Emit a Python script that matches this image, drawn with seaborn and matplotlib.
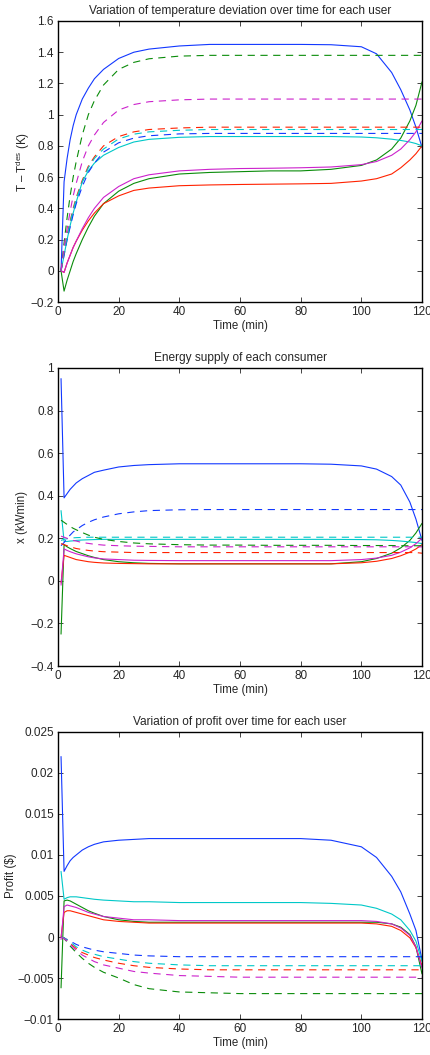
import numpy as np
import pandas as pd
import matplotlib
matplotlib.use("Agg")
import matplotlib.pyplot as plt
from matplotlib.ticker import FuncFormatter
import seaborn as sns

# time grid (min) shared by every curve
t = [1, 2, 3, 4, 5, 6, 8, 10, 12, 15, 20, 25, 30, 40, 50, 60, 70, 80, 90, 100, 105, 110, 113, 116, 118, 120]

# --- panel 1: temperature deviation (K) ---
temp_b = [0.0, 0.57, 0.72, 0.84, 0.93, 1.00, 1.10, 1.17, 1.23, 1.29, 1.36, 1.40, 1.42, 1.44, 1.45, 1.45, 1.45, 1.45, 1.448, 1.435, 1.39, 1.27, 1.16, 1.03, 0.92, 0.79]
temp_g = [0.0, -0.13, -0.06, 0.0, 0.06, 0.11, 0.20, 0.28, 0.35, 0.43, 0.51, 0.56, 0.59, 0.62, 0.63, 0.635, 0.64, 0.64, 0.65, 0.675, 0.71, 0.78, 0.85, 0.96, 1.06, 1.21]
temp_r = [0.0, -0.01, 0.05, 0.10, 0.15, 0.19, 0.26, 0.32, 0.37, 0.43, 0.48, 0.515, 0.53, 0.545, 0.55, 0.553, 0.555, 0.557, 0.56, 0.575, 0.59, 0.62, 0.66, 0.71, 0.75, 0.80]
temp_c = [0.0, 0.10, 0.20, 0.29, 0.37, 0.44, 0.57, 0.64, 0.69, 0.74, 0.79, 0.825, 0.842, 0.855, 0.86, 0.86, 0.86, 0.86, 0.86, 0.857, 0.852, 0.843, 0.835, 0.825, 0.815, 0.80]
temp_m = [0.0, -0.01, 0.05, 0.10, 0.15, 0.19, 0.27, 0.34, 0.40, 0.47, 0.54, 0.59, 0.615, 0.64, 0.65, 0.655, 0.657, 0.66, 0.665, 0.68, 0.70, 0.74, 0.78, 0.84, 0.89, 0.96]
temp_b_d = [0.0, 0.10, 0.20, 0.28, 0.36, 0.43, 0.54, 0.63, 0.69, 0.76, 0.82, 0.85, 0.865, 0.877, 0.88, 0.88, 0.88, 0.88, 0.88, 0.88, 0.88, 0.88, 0.88, 0.88, 0.88, 0.88]
temp_g_d = [0.0, 0.18, 0.34, 0.48, 0.60, 0.70, 0.87, 1.00, 1.09, 1.19, 1.29, 1.335, 1.358, 1.375, 1.38, 1.38, 1.38, 1.38, 1.38, 1.38, 1.38, 1.38, 1.38, 1.38, 1.38, 1.38]
temp_r_d = [0.0, 0.12, 0.23, 0.32, 0.40, 0.47, 0.58, 0.67, 0.73, 0.80, 0.86, 0.89, 0.905, 0.915, 0.92, 0.92, 0.92, 0.92, 0.92, 0.92, 0.92, 0.92, 0.92, 0.92, 0.92, 0.92]
temp_c_d = [0.0, 0.12, 0.22, 0.31, 0.39, 0.46, 0.57, 0.66, 0.72, 0.78, 0.845, 0.875, 0.89, 0.90, 0.905, 0.905, 0.905, 0.905, 0.905, 0.905, 0.905, 0.905, 0.905, 0.905, 0.905, 0.905]
temp_m_d = [0.0, 0.15, 0.27, 0.38, 0.48, 0.56, 0.70, 0.80, 0.87, 0.95, 1.03, 1.065, 1.083, 1.095, 1.10, 1.10, 1.10, 1.10, 1.10, 1.10, 1.10, 1.10, 1.10, 1.10, 1.10, 1.10]

# --- panel 2: energy supply (kWmin) ---
sup_b = [0.95, 0.39, 0.41, 0.43, 0.445, 0.46, 0.48, 0.495, 0.51, 0.52, 0.535, 0.542, 0.546, 0.55, 0.55, 0.55, 0.55, 0.55, 0.548, 0.54, 0.525, 0.49, 0.45, 0.37, 0.29, 0.19]
sup_g = [-0.25, 0.17, 0.16, 0.152, 0.145, 0.138, 0.128, 0.118, 0.11, 0.10, 0.09, 0.085, 0.082, 0.08, 0.08, 0.08, 0.08, 0.08, 0.08, 0.09, 0.105, 0.13, 0.155, 0.19, 0.225, 0.27]
sup_r = [-0.01, 0.12, 0.115, 0.11, 0.105, 0.10, 0.095, 0.09, 0.087, 0.084, 0.082, 0.081, 0.08, 0.08, 0.08, 0.08, 0.08, 0.08, 0.08, 0.085, 0.092, 0.105, 0.118, 0.135, 0.15, 0.17]
sup_c = [0.33, 0.185, 0.185, 0.187, 0.188, 0.19, 0.192, 0.193, 0.194, 0.195, 0.195, 0.195, 0.195, 0.195, 0.195, 0.195, 0.195, 0.195, 0.195, 0.194, 0.193, 0.19, 0.187, 0.183, 0.18, 0.175]
sup_m = [-0.02, 0.15, 0.143, 0.137, 0.132, 0.127, 0.12, 0.113, 0.108, 0.103, 0.10, 0.097, 0.096, 0.095, 0.095, 0.095, 0.095, 0.095, 0.095, 0.10, 0.107, 0.12, 0.135, 0.155, 0.175, 0.20]
sup_b_d = [0.165, 0.18, 0.20, 0.215, 0.23, 0.24, 0.26, 0.275, 0.287, 0.30, 0.315, 0.324, 0.33, 0.334, 0.335, 0.335, 0.335, 0.335, 0.335, 0.335, 0.335, 0.335, 0.335, 0.335, 0.335, 0.335]
sup_g_d = [0.285, 0.275, 0.265, 0.255, 0.247, 0.24, 0.227, 0.215, 0.205, 0.195, 0.185, 0.178, 0.174, 0.17, 0.168, 0.168, 0.167, 0.167, 0.167, 0.166, 0.166, 0.166, 0.165, 0.165, 0.165, 0.165]
sup_r_d = [0.175, 0.17, 0.165, 0.16, 0.156, 0.152, 0.147, 0.143, 0.14, 0.137, 0.135, 0.133, 0.133, 0.133, 0.133, 0.133, 0.133, 0.133, 0.133, 0.133, 0.133, 0.133, 0.133, 0.133, 0.133, 0.13]
sup_c_d = [0.19, 0.195, 0.198, 0.20, 0.202, 0.203, 0.204, 0.205, 0.205, 0.205, 0.205, 0.205, 0.205, 0.205, 0.205, 0.205, 0.205, 0.205, 0.205, 0.205, 0.205, 0.205, 0.205, 0.205, 0.205, 0.205]
sup_m_d = [0.21, 0.205, 0.20, 0.195, 0.19, 0.187, 0.18, 0.176, 0.172, 0.168, 0.165, 0.163, 0.162, 0.16, 0.16, 0.16, 0.16, 0.16, 0.16, 0.16, 0.16, 0.16, 0.16, 0.16, 0.16, 0.16]

# --- panel 3: profit ($) ---
prof_b = [0.022, 0.008, 0.0087, 0.0093, 0.0097, 0.010, 0.0106, 0.011, 0.0113, 0.0116, 0.0118, 0.0119, 0.012, 0.012, 0.012, 0.012, 0.012, 0.012, 0.0118, 0.011, 0.0097, 0.0074, 0.0055, 0.0028, 0.0008, -0.0028]
prof_g = [-0.0062, 0.0044, 0.0045, 0.0044, 0.0042, 0.004, 0.0036, 0.0032, 0.0029, 0.0025, 0.0021, 0.0019, 0.0018, 0.0018, 0.0018, 0.0018, 0.0018, 0.0018, 0.0018, 0.0018, 0.0018, 0.0016, 0.0012, 0.0003, -0.0012, -0.0045]
prof_r = [0.0, 0.003, 0.0032, 0.0032, 0.0031, 0.003, 0.0028, 0.0026, 0.0024, 0.0021, 0.0019, 0.0018, 0.0017, 0.0017, 0.0017, 0.0017, 0.0017, 0.0017, 0.0017, 0.0017, 0.0016, 0.0013, 0.0008, -0.0001, -0.0013, -0.0035]
prof_c = [0.008, 0.0046, 0.0048, 0.0049, 0.0049, 0.0049, 0.0048, 0.0047, 0.0046, 0.0045, 0.0044, 0.0043, 0.0043, 0.0042, 0.0042, 0.0042, 0.0042, 0.0042, 0.0041, 0.0039, 0.0035, 0.0028, 0.0021, 0.0008, -0.0005, -0.003]
prof_m = [-0.0003, 0.0037, 0.0039, 0.0038, 0.0037, 0.0036, 0.0033, 0.003, 0.0028, 0.0025, 0.0023, 0.0021, 0.0021, 0.002, 0.002, 0.002, 0.002, 0.002, 0.002, 0.002, 0.0019, 0.0016, 0.0011, 0.0002, -0.0012, -0.0038]
prof_b_d = [0.0, -0.0001, -0.0003, -0.0005, -0.0007, -0.0009, -0.0012, -0.0014, -0.0016, -0.0018, -0.002, -0.0022, -0.0023, -0.0024, -0.0024, -0.0024, -0.0024, -0.0024, -0.0024, -0.0024, -0.0024, -0.0024, -0.0024, -0.0024, -0.0024, -0.0024]
prof_g_d = [0.0, -0.0002, -0.0006, -0.0011, -0.0015, -0.0019, -0.0026, -0.0032, -0.0037, -0.0043, -0.005, -0.0058, -0.0063, -0.0067, -0.0068, -0.0069, -0.0069, -0.0069, -0.0069, -0.0069, -0.0069, -0.0069, -0.0069, -0.0069, -0.0069, -0.0069]
prof_r_d = [0.0, -0.0001, -0.0004, -0.0008, -0.0011, -0.0014, -0.0019, -0.0022, -0.0025, -0.0028, -0.0032, -0.0035, -0.0037, -0.0039, -0.004, -0.004, -0.004, -0.004, -0.004, -0.004, -0.004, -0.004, -0.004, -0.004, -0.004, -0.004]
prof_c_d = [0.0, -0.0001, -0.0004, -0.0007, -0.0009, -0.0012, -0.0016, -0.0019, -0.0021, -0.0024, -0.0027, -0.003, -0.0032, -0.0034, -0.0035, -0.0035, -0.0035, -0.0035, -0.0035, -0.0035, -0.0035, -0.0035, -0.0035, -0.0035, -0.0035, -0.0035]
prof_m_d = [0.0, -0.0002, -0.0005, -0.0009, -0.0013, -0.0016, -0.0022, -0.0026, -0.003, -0.0034, -0.0038, -0.0042, -0.0044, -0.0047, -0.0048, -0.0049, -0.0049, -0.0049, -0.0049, -0.0049, -0.0049, -0.0049, -0.0049, -0.0049, -0.0049, -0.0049]

users = ['b', 'g', 'r', 'c', 'm']
colors = {'b': '#1238ff', 'g': '#0a8c0a', 'r': '#ff2200', 'c': '#00c8c8', 'm': '#cc22cc'}

panels = [
    dict(solid=[temp_b, temp_g, temp_r, temp_c, temp_m],
         dashed=[temp_b_d, temp_g_d, temp_r_d, temp_c_d, temp_m_d],
         title='Variation of temperature deviation over time for each user',
         ylabel='T – T$^{\\rm des}$ (K)', ylim=(-0.2, 1.6), lpad=-1.0,
         yticks=np.arange(-0.2, 1.61, 0.2), pos=[0.1349, 0.7137, 0.8465, 0.2664]),
    dict(solid=[sup_b, sup_g, sup_r, sup_c, sup_m],
         dashed=[sup_b_d, sup_g_d, sup_r_d, sup_c_d, sup_m_d],
         title='Energy supply of each consumer',
         ylabel='x (kWmin)', ylim=(-0.4, 1.0), lpad=1.5,
         yticks=np.arange(-0.4, 1.01, 0.2), pos=[0.1349, 0.3687, 0.8465, 0.2825]),
    dict(solid=[prof_b, prof_g, prof_r, prof_c, prof_m],
         dashed=[prof_b_d, prof_g_d, prof_r_d, prof_c_d, prof_m_d],
         title='Variation of profit over time for each user',
         ylabel='Profit (\\$)', ylim=(-0.01, 0.025), lpad=0.5,
         yticks=np.arange(-0.01, 0.0251, 0.005), pos=[0.1349, 0.0341, 0.8465, 0.2721]),
]

sns.set_style('ticks')
plt.rcParams['font.family'] = ['Liberation Sans', 'DejaVu Sans']
plt.rcParams['mathtext.fontset'] = 'custom'
plt.rcParams['mathtext.rm'] = 'Liberation Sans'
plt.rcParams['mathtext.it'] = 'Liberation Sans:italic'
plt.rcParams['axes.linewidth'] = 1.0


def fmt(v, pos):
    s = '%g' % round(v, 6)
    return s.replace('-', '\u2212')


fig = plt.figure(figsize=(4.3, 10.55), dpi=100)

for p in panels:
    ax = fig.add_axes(p['pos'])
    rows = []
    for u, vals in zip(users, p['solid']):
        for ti, v in zip(t, vals):
            rows.append((ti, v, u + '-'))
    for u, vals in zip(users, p['dashed']):
        for ti, v in zip(t, vals):
            rows.append((ti, v, u + '--'))
    df = pd.DataFrame(rows, columns=['time', 'value', 'series'])
    pal = {u + '-': colors[u] for u in users}
    pal.update({u + '--': colors[u] for u in users})
    dsh = {u + '-': '' for u in users}
    dsh.update({u + '--': (6.5, 5.0) for u in users})
    sns.lineplot(data=df, x='time', y='value', hue='series', style='series',
                 palette=pal, dashes=dsh, estimator=None, sort=False,
                 legend=False, linewidth=0.8, ax=ax)
    ax.set_xlim(0, 120)
    ax.set_ylim(*p['ylim'])
    ax.set_xticks([0, 20, 40, 60, 80, 100, 120])
    ax.set_yticks(p['yticks'])
    ax.yaxis.set_major_formatter(FuncFormatter(fmt))
    ax.tick_params(direction='in', top=True, right=True, length=3.5,
                   width=0.6, labelsize=8.5, pad=3)
    for s in ax.spines.values():
        s.set_visible(True)
        s.set_linewidth(1.0)
        s.set_color('black')
    ax.set_title(p['title'], fontsize=8.6, pad=5)
    ax.set_xlabel('Time (min)', fontsize=8.3, labelpad=1)
    ax.set_ylabel(p['ylabel'], fontsize=8.3, labelpad=p['lpad'])

fig.savefig('out.png', dpi=100)
